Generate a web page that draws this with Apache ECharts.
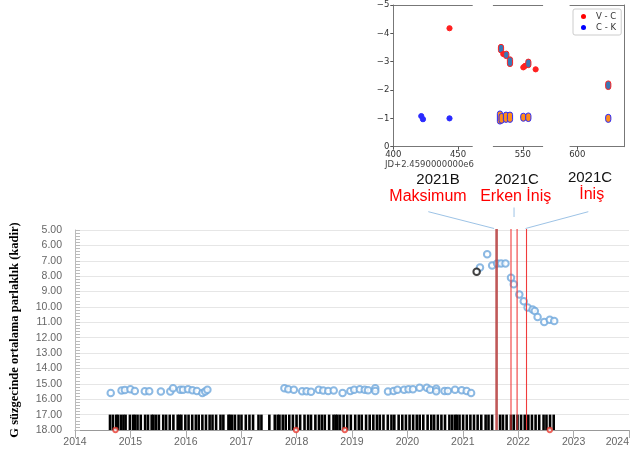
<!DOCTYPE html>
<html><head><meta charset="utf-8">
<script src="https://cdn.jsdelivr.net/npm/echarts@6/dist/echarts.min.js"></script>
<style>html,body{margin:0;padding:0;background:#fff}#c{width:632px;height:454px}</style>
</head><body><div id="c"></div>
<script>
// ---------- main light curve ----------
const yearMin = 2014, yearMax = 2024;
const magMin = 5, magMax = 18;
const gDates = [2014.645,2014.84,2014.90,2015.00,2015.08,2015.26,2015.34,2015.55,2015.72,2015.77,2015.90,2015.95,2016.04,2016.12,2016.20,2016.30,2016.35,2016.39,
  2017.78,2017.85,2017.95,2018.10,2018.18,2018.26,2018.40,2018.48,2018.57,2018.67,2018.83,2018.97,2019.04,2019.14,2019.23,2019.29,2019.42,2019.42,2019.65,2019.75,2019.82,2019.94,2020.02,2020.10,2020.22,2020.35,2020.41,2020.52,2020.52,2020.67,2020.73,2020.86,2020.98,2021.07,2021.15,
  2021.31,2021.44,2021.53,2021.62,2021.69,2021.77,2021.87,2021.92,2022.02,2022.10,2022.17,2022.26,2022.30,2022.35,2022.47,2022.57,2022.65];
const gMags = [15.59,15.43,15.40,15.35,15.46,15.48,15.48,15.50,15.50,15.28,15.39,15.39,15.35,15.41,15.46,15.59,15.50,15.39,
  15.28,15.35,15.39,15.48,15.48,15.52,15.39,15.43,15.46,15.43,15.59,15.46,15.39,15.35,15.39,15.41,15.28,15.46,15.50,15.46,15.39,15.39,15.35,15.35,15.26,15.26,15.39,15.32,15.48,15.46,15.46,15.39,15.41,15.46,15.59,
  7.43,6.57,7.30,7.17,7.17,7.17,8.11,8.52,9.20,9.63,10.04,10.17,10.26,10.65,10.98,10.83,10.92];
const blackDates = [2021.25];
const blackMags = [7.72];
const redDates = [2014.73, 2017.99, 2018.87, 2022.57];
const redMags = [18, 18, 18, 18];
const coverDates = [2014.632,2014.684,2014.743,2014.775,2014.828,2014.874,2014.913,2014.991,2015.05,2015.083,2015.129,2015.187,2015.266,2015.318,2015.384,2015.416,2015.462,2015.514,2015.593,2015.645,2015.71,2015.776,2015.854,2015.887,2015.92,2015.992,2016.05,2016.116,2016.181,2016.233,2016.299,2016.364,2016.43,2016.482,2016.547,2016.626,2016.678,2016.77,2016.796,2016.835,2016.887,2016.953,2017.005,2017.083,2017.149,2017.214,2017.312,2017.365,2017.508,2017.606,2017.659,2017.691,2017.75,2017.803,2017.868,2017.933,2017.999,2018.064,2018.143,2018.208,2018.26,2018.339,2018.404,2018.456,2018.509,2018.587,2018.666,2018.705,2018.737,2018.783,2018.849,2018.914,2018.979,2019.058,2019.123,2019.176,2019.254,2019.319,2019.385,2019.45,2019.502,2019.568,2019.646,2019.712,2019.764,2019.842,2019.908,2019.973,2020.039,2020.104,2020.169,2020.222,2020.287,2020.365,2020.431,2020.483,2020.549,2020.614,2020.679,2020.758,2020.81,2020.862,2020.895,2020.941,2021.006,2021.072,2021.137,2021.202,2021.268,2021.333,2021.412,2021.464,2021.529,2021.673,2021.725,2021.791,2021.869,2021.921,2021.987,2022.052,2022.118,2022.183,2022.248,2022.314,2022.379,2022.458,2022.51,2022.575,2022.641];
const coverBand = [17, 18];
const eventDates = [2021.61, 2021.87, 2021.98, 2022.15];
const eventLabels = [['2021B','Maksimum'],['2021C','Erken İniş'],['2021C','İniş']];
const yTitle = 'G süzgecinde ortalama parlaklık (kadir)';

// ---------- inset colour indices ----------
const vcJD  = [443.4, 533.0, 534.8, 537.1, 540.0, 550.4, 551.7, 554.3, 560.0, 624.1];
const vcVal = [-4.18, -3.46, -3.27, -3.24, -3.00, -2.80, -2.85, -2.94, -2.73, -2.17];
const vcErr = [0, 0.06, 0, 0.04, 0.08, 0, 0, 0.06, 0, 0.06];
const ckJD  = [421.6, 422.9, 443.4, 532.2, 533.5, 536.9, 540.0, 550.4, 554.3, 624.1];
const ckVal = [-1.08, -0.97, -1.00, -1.03, -1.00, -1.04, -1.04, -1.04, -1.04, -1.00];
const ckErr = [0, 0, 0, 0.14, 0.08, 0.09, 0.09, 0.05, 0.06, 0.05];
const insetRanges = [[400, 461], [527, 565.5], [594.3, 636.6]];
const insetXTicks = [[400, 450], [550], [600]];
const insetY = [-5, 0];
const insetXName = 'JD+2.4590000000e6';

// ---------- build ----------
const chart = echarts.init(document.getElementById('c'));
const FONT = 'Liberation Sans';
const insetGrids = [
  {left: 393.3, top: 5, width: 79, height: 141.7},
  {left: 493.3, top: 5, width: 49.4, height: 141.7},
  {left: 570, top: 5, width: 54.3, height: 141.7}
];
const spine = {lineStyle: {color: '#777', width: 1}};

const grids = [{left: 73, right: 0, top: 230, bottom: 24}].concat(insetGrids);

const xAxes = [{
  gridIndex: 0, type: 'value', min: yearMin, max: yearMax, interval: 1,
  axisLine: {lineStyle: {color: '#999'}}, axisTick: {show: true, length: 8, lineStyle: {color: '#aaa'}},
  axisLabel: {color: '#666', fontSize: 10.5, fontFamily: FONT, margin: 7, alignMaxLabel: 'right', formatter: v => String(v)},
  splitLine: {show: false}
}];
const yAxes = [{
  gridIndex: 0, type: 'value', min: magMin, max: magMax, interval: 1, inverse: true,
  name: yTitle, nameLocation: 'middle', nameGap: 54, nameRotate: 90,
  nameTextStyle: {fontFamily: 'Liberation Serif', fontWeight: 'bold', fontSize: 12.5, color: '#000'},
  axisLine: {show: true, lineStyle: {color: '#bbb'}},
  axisTick: {show: true, inside: true, length: 5, lineStyle: {color: '#bbb'}},
  minorTick: {show: true, splitNumber: 5, length: 5, lineStyle: {color: '#bbb'}},
  axisLabel: {color: '#666', fontSize: 10.5, fontFamily: FONT, margin: 13, formatter: v => v.toFixed(2)},
  splitLine: {show: true, lineStyle: {color: '#e6e6e6', width: 1.2}}
}];
insetRanges.forEach((r, i) => {
  xAxes.push({
    gridIndex: i + 1, type: 'value', min: r[0], max: r[1], position: 'bottom',
    axisLine: {show: true, onZero: false, ...spine},
    axisTick: {show: true, length: 3, customValues: insetXTicks[i], lineStyle: {color: '#555'}},
    axisLabel: {show: true, customValues: insetXTicks[i], color: '#333', fontSize: 8.5, fontFamily: 'DejaVu Sans', margin: 4, showMinLabel: true, showMaxLabel: true},
    splitLine: {show: false}
  });
});
insetRanges.forEach((r, i) => {
  xAxes.push({
    gridIndex: i + 1, type: 'value', min: r[0], max: r[1], position: 'top',
    axisLine: {show: true, onZero: false, ...spine}, axisTick: {show: false}, axisLabel: {show: false}, splitLine: {show: false}
  });
});
insetRanges.forEach((r, i) => {
  yAxes.push({
    gridIndex: i + 1, type: 'value', min: insetY[0], max: insetY[1], interval: 1, inverse: true,
    position: i === 2 ? 'right' : 'left',
    axisLine: {show: i !== 1, onZero: false, ...spine},
    axisTick: {show: i === 0, length: 3, lineStyle: {color: '#555'}},
    axisLabel: {show: i === 0, color: '#333', fontSize: 8.5, fontFamily: 'DejaVu Sans', margin: 4,
      formatter: v => v < 0 ? '\u2212' + Math.abs(v) : String(v)},
    splitLine: {show: false}
  });
});

const series = [];
// observation coverage bars
series.push({
  type: 'custom', xAxisIndex: 0, yAxisIndex: 0, silent: true, z: 2,
  data: coverDates.map(d => [d]),
  encode: {x: 0},
  renderItem: (params, api) => {
    const t = api.coord([api.value(0), coverBand[0]]);
    const b = api.coord([api.value(0), coverBand[1]]);
    return {type: 'rect', shape: {x: t[0] - 1.3, y: t[1], width: 2.6, height: b[1] - t[1]}, style: {fill: '#000'}};
  }
});
// event lines
series.push({
  type: 'custom', xAxisIndex: 0, yAxisIndex: 0, silent: true, z: 5,
  data: eventDates.map(d => [d]),
  encode: {x: 0},
  renderItem: (params, api) => {
    const t = api.coord([api.value(0), magMin]);
    const b = api.coord([api.value(0), magMax]);
    const thick = params.dataIndex === 0;
    return {type: 'line', shape: {x1: t[0], y1: t[1] - 1, x2: b[0], y2: b[1]},
      style: {stroke: thick ? 'rgba(185,70,70,0.9)' : '#f03c3c', lineWidth: thick ? 2.6 : 1.1}};
  }
});
series.push({
  type: 'scatter', xAxisIndex: 0, yAxisIndex: 0, z: 4,
  data: gDates.map((d, i) => [d, gMags[i]]),
  symbol: 'circle', symbolSize: 6.5,
  itemStyle: {color: '#fff', borderColor: '#6fa8dc', borderWidth: 2}
});
series.push({
  type: 'scatter', xAxisIndex: 0, yAxisIndex: 0, z: 4,
  data: blackDates.map((d, i) => [d, blackMags[i]]),
  symbol: 'circle', symbolSize: 6.5,
  itemStyle: {color: '#fff', borderColor: '#111', borderWidth: 2}
});
series.push({
  type: 'scatter', xAxisIndex: 0, yAxisIndex: 0, z: 6,
  data: redDates.map((d, i) => [d, redMags[i]]),
  symbol: 'circle', symbolSize: 4.5,
  itemStyle: {color: '#fff', borderColor: '#e8392f', borderWidth: 1.8}
});

function errRender(fillErr, edge, dot) {
  return (params, api) => {
    const x = api.value(0), v = api.value(1), e = api.value(2);
    const a = api.coord([x, v - e]);
    const b = api.coord([x, v + e]);
    const r = 2.6;
    const y0 = Math.min(a[1], b[1]) - r, y1 = Math.max(a[1], b[1]) + r;
    return {type: 'rect', shape: {x: a[0] - r, y: y0, width: 2 * r, height: y1 - y0, r: r},
      style: {fill: e > 0 ? fillErr : dot, stroke: edge, lineWidth: 1}};
  };
}
insetRanges.forEach((r, i) => {
  const inR = x => x >= r[0] && x <= r[1];
  series.push({
    name: 'V - C', type: 'custom', xAxisIndex: i + 1, yAxisIndex: i + 1, clip: false,
    itemStyle: {color: '#ff0000'},
    data: vcJD.map((x, k) => [x, vcVal[k], vcErr[k]]).filter(p => inR(p[0])),
    encode: {x: 0, y: 1},
    renderItem: errRender('#3b78b5', '#ff2020', '#ff2020')
  });
  series.push({
    name: 'C - K', type: 'custom', xAxisIndex: i + 1, yAxisIndex: i + 1, clip: false,
    itemStyle: {color: '#0000ff'},
    data: ckJD.map((x, k) => [x, ckVal[k], ckErr[k]]).filter(p => inR(p[0])),
    encode: {x: 0, y: 1},
    renderItem: errRender('#ff8c1a', '#2a2aff', '#2a2aff')
  });
});

chart.setOption({
  animation: false,
  backgroundColor: '#fff',
  grid: grids,
  xAxis: xAxes,
  yAxis: yAxes,
  legend: {
    left: 573, top: 9, orient: 'vertical', icon: 'circle', itemWidth: 5, itemHeight: 5, itemGap: 2,
    padding: [3, 5, 3, 8], borderColor: '#ccc', borderWidth: 1, borderRadius: 2, backgroundColor: '#fff',
    textStyle: {fontSize: 8.5, color: '#333', fontFamily: 'DejaVu Sans', padding: [0, 0, 0, 5]},
    selectedMode: false,
    data: [{name: 'V - C', itemStyle: {color: '#ff0000'}}, {name: 'C - K', itemStyle: {color: '#0000ff'}}]
  },
  series: series
});

// annotations above the event lines
const tops = eventDates.map(d => chart.convertToPixel({xAxisIndex: 0, yAxisIndex: 0}, [d, magMin]));
const g = [];
const textPos = [[438, 180, 428, 197], [516.7, 180, 515.7, 197], [590, 178, 591.7, 195]];
eventLabels.forEach((lab, i) => {
  const p = textPos[i];
  g.push({type: 'text', x: p[0], y: p[1], style: {text: lab[0], fill: '#111', font: '15px "Liberation Sans"', textAlign: 'center', textVerticalAlign: 'middle'}});
  g.push({type: 'text', x: p[2], y: p[3], style: {text: lab[1], fill: '#ff0000', font: '16px "Liberation Sans"', textAlign: 'center', textVerticalAlign: 'middle'}});
});
const lineStyle = {stroke: '#9dc3e6', lineWidth: 1};
g.push({type: 'line', shape: {x1: 428.3, y1: 211.7, x2: tops[0][0] - 2.5, y2: tops[0][1] - 1.5}, style: lineStyle});
g.push({type: 'line', shape: {x1: (tops[1][0] + tops[2][0]) / 2, y1: 207.5, x2: (tops[1][0] + tops[2][0]) / 2, y2: 217}, style: lineStyle});
g.push({type: 'line', shape: {x1: 588.3, y1: 211.7, x2: tops[3][0] - 1, y2: tops[3][1] - 1.5}, style: lineStyle});
g.push({type: 'text', x: 429.5, y: 164.3, style: {text: insetXName, fill: '#444', font: '8.5px "DejaVu Sans"', textAlign: 'center', textVerticalAlign: 'middle'}});
chart.setOption({graphic: g});
</script>
</body></html>
